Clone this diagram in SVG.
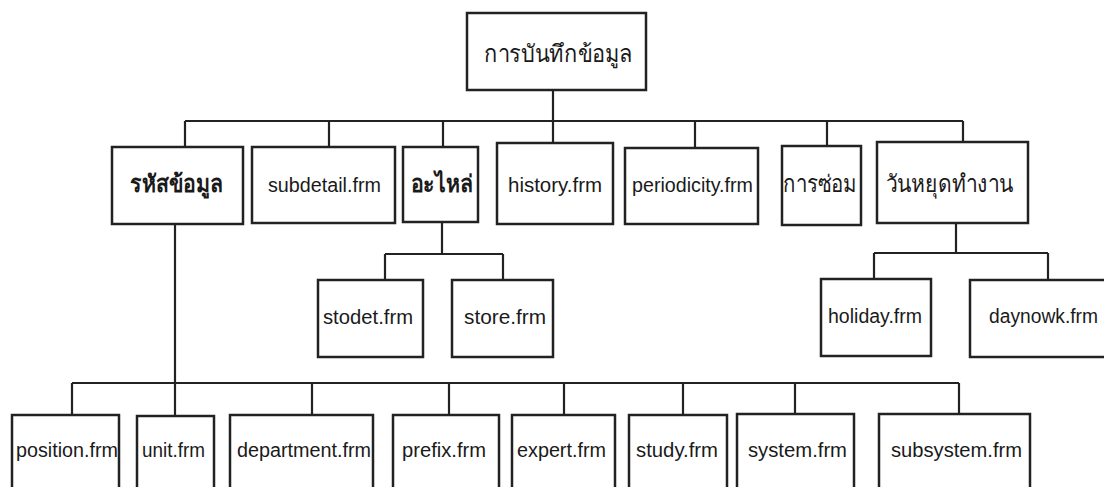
<svg xmlns="http://www.w3.org/2000/svg" width="1104" height="487" viewBox="0 0 1104 487">
<style>
.box{fill:#fff;stroke:#222;stroke-width:2.5}
.ln{fill:none;stroke:#222;stroke-width:2.2}
.t{font-family:"Liberation Sans","DejaVu Sans","Noto Sans",sans-serif;font-size:20px;fill:#1a1a1a}
.th{font-family:"Liberation Sans","DejaVu Sans","Noto Sans",sans-serif;font-size:24px;fill:#1a1a1a}
.b{font-weight:bold}
</style>
<rect width="1104" height="487" fill="#fff"/>
<g id="connectors">
<path class="ln" d="M553 90V121M185 121H963M185 121V147M329 121V147M443 121V147M553 121V143M695 121V148M827 121V146M963 121V142"/>
<path class="ln" d="M442 222V254M385 254H503M385 254V280M503 254V280"/>
<path class="ln" d="M956 223V253M874 253H1048M874 253V279M1048 253V280"/>
<path class="ln" d="M175 224V416M72 383H959M72 383V415M312 383V415M449 383V415M564 383V415M683 383V415M795 383V415M959 383V415"/>
</g>
<g id="root"><rect class="box" x="467" y="13" width="179" height="77"/><text class="th" x="484" y="62" textLength="149" lengthAdjust="spacingAndGlyphs">การบันทึกข้อมูล</text></g>
<g id="n-rahas"><rect class="box" x="112" y="147" width="131" height="77"/><text class="th b" x="130" y="192" textLength="93" lengthAdjust="spacingAndGlyphs">รหัสข้อมูล</text></g>
<g id="n-subdetail"><rect class="box" x="252" y="147" width="143" height="76"/><text class="t" x="268" y="192" textLength="113" lengthAdjust="spacingAndGlyphs">subdetail.frm</text></g>
<g id="n-arai"><rect class="box" x="403" y="147" width="75" height="75"/><text class="th b" x="411" y="192" textLength="62" lengthAdjust="spacingAndGlyphs">อะไหล่</text></g>
<g id="n-history"><rect class="box" x="497" y="143" width="116" height="81"/><text class="t" x="508" y="192" textLength="94" lengthAdjust="spacingAndGlyphs">history.frm</text></g>
<g id="n-periodicity"><rect class="box" x="625" y="148" width="133" height="76"/><text class="t" x="632" y="192" textLength="121" lengthAdjust="spacingAndGlyphs">periodicity.frm</text></g>
<g id="n-repair"><rect class="box" x="782" y="146" width="79" height="79"/><text class="th" x="783" y="192" textLength="74" lengthAdjust="spacingAndGlyphs">การซ่อม</text></g>
<g id="n-holidays"><rect class="box" x="877" y="142" width="151" height="81"/><text class="th" x="886" y="192" textLength="127" lengthAdjust="spacingAndGlyphs">วันหยุดทำงาน</text></g>
<g id="n-stodet"><rect class="box" x="318" y="280" width="105" height="77"/><text class="t" x="323" y="324" textLength="90" lengthAdjust="spacingAndGlyphs">stodet.frm</text></g>
<g id="n-store"><rect class="box" x="452" y="280" width="101" height="77"/><text class="t" x="464" y="324" textLength="82" lengthAdjust="spacingAndGlyphs">store.frm</text></g>
<g id="n-holiday"><rect class="box" x="821" y="279" width="110" height="77"/><text class="t" x="828" y="323" textLength="94" lengthAdjust="spacingAndGlyphs">holiday.frm</text></g>
<g id="n-daynowk"><rect class="box" x="970" y="280" width="140" height="77"/><text class="t" x="989" y="323" textLength="109" lengthAdjust="spacingAndGlyphs">daynowk.frm</text></g>
<g id="n-position"><rect class="box" x="12" y="415" width="107" height="80"/><text class="t" x="16" y="457" textLength="102" lengthAdjust="spacingAndGlyphs">position.frm</text></g>
<g id="n-unit"><rect class="box" x="137" y="416" width="77" height="80"/><text class="t" x="142" y="457" textLength="63" lengthAdjust="spacingAndGlyphs">unit.frm</text></g>
<g id="n-department"><rect class="box" x="230" y="415" width="143" height="80"/><text class="t" x="237" y="457" textLength="134" lengthAdjust="spacingAndGlyphs">department.frm</text></g>
<g id="n-prefix"><rect class="box" x="393" y="415" width="106" height="80"/><text class="t" x="402" y="457" textLength="84" lengthAdjust="spacingAndGlyphs">prefix.frm</text></g>
<g id="n-expert"><rect class="box" x="512" y="415" width="103" height="80"/><text class="t" x="517" y="457" textLength="89" lengthAdjust="spacingAndGlyphs">expert.frm</text></g>
<g id="n-study"><rect class="box" x="629" y="415" width="98" height="80"/><text class="t" x="636" y="457" textLength="82" lengthAdjust="spacingAndGlyphs">study.frm</text></g>
<g id="n-system"><rect class="box" x="737" y="414" width="117" height="81"/><text class="t" x="748" y="457" textLength="99" lengthAdjust="spacingAndGlyphs">system.frm</text></g>
<g id="n-subsystem"><rect class="box" x="879" y="414" width="151" height="81"/><text class="t" x="891" y="457" textLength="131" lengthAdjust="spacingAndGlyphs">subsystem.frm</text></g>
</svg>
